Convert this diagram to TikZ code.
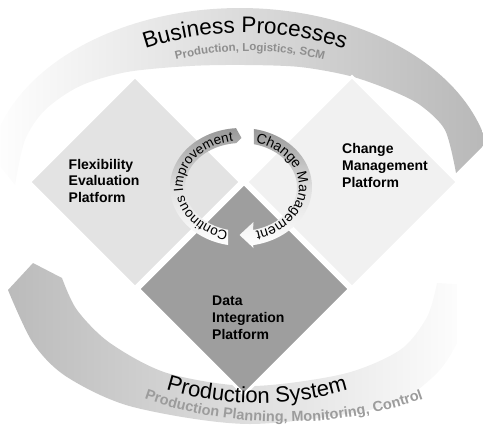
\documentclass[tikz,border=0pt]{standalone}
\usepackage{fontspec}
\setmainfont{Liberation Sans}
\usetikzlibrary{shapes.geometric,decorations.text}
\definecolor{leftgray}{HTML}{E3E3E3}
\definecolor{rightgray}{HTML}{F1F1F1}
\definecolor{datagray}{HTML}{9E9E9E}
\definecolor{topbandend}{HTML}{B8B8B8}
\definecolor{botbandstart}{HTML}{BBBBBB}
\definecolor{arrowgray}{HTML}{989898}
\definecolor{arrowmid}{HTML}{E0E0E0}
\definecolor{subgray}{HTML}{8E8E8E}
\definecolor{subgraytwo}{HTML}{9C9C9C}
\begin{document}
\begin{tikzpicture}[x=1pt,y=-1pt,
  plat/.style={diamond, aspect=1, minimum width=212pt, minimum height=212pt, inner sep=0pt, draw=white, line width=3pt},
  lbl/.style={font=\fontsize{14}{16.9}\selectfont\bfseries, align=left, inner sep=0pt, anchor=north west},
  circarrow/.style={top color=arrowgray, bottom color=white, middle color=arrowmid},
]
\useasboundingbox (0,0) rectangle (483,424);
\clip (0,0) rectangle (483,424);

% top band (Business Processes)
\path[left color=white, right color=topbandend]
  plot[domain=188:348, samples=90] ({240+252*cos(\x)},{178+170*sin(\x)})
  -- plot[smooth] coordinates {(456,173) (445,130) (420,105) (390,90) (350,76) (300,67) (245,65) (190,66) (127,72) (80,86) (45,110) (25,140) (15,185)}
  -- cycle;

% bottom band (Production System)
\begin{scope}
\clip (0,0) rectangle (457,424);
\path[left color=botbandstart, right color=white]
  plot[smooth] coordinates {(8,290) (33,343) (67,377) (133,407) (250,424) (383,407) (433,377) (457,343) (470,300) (475,285)}
  -- plot[smooth] coordinates {(437,283) (427,317) (400,350) (343,374) (250,386) (167,373) (110,343) (77,310) (62,278)}
  -- (33,263) -- cycle;
\end{scope}

% platforms
\node[plat, fill=leftgray] (flex) at (135,182) {};
\node[plat, fill=rightgray] (change) at (352,182) {};
\node[plat, fill=datagray] (data) at (244,289) {};

% circular arrows
\path[circarrow]
  plot[domain=100.5:266, samples=60] ({241+71*cos(\x)},{187+59*sin(\x)})
  -- (241.5,138)
  -- plot[domain=265:103.4, samples=60] ({241+56*cos(\x)},{187+44*sin(\x)})
  -- cycle;
\path[circarrow]
  plot[domain=280.5:440.3, samples=60] ({241+71*cos(\x)},{187+59*sin(\x)})
  -- (253.5,248) -- (239.5,235) -- (253.5,222)
  -- plot[domain=437.6:283.4, samples=60] ({241+56*cos(\x)},{187+44*sin(\x)})
  -- cycle;

% texts on the circular arrows
\path[decorate, decoration={text along path, text align=center,
  text={|\fontsize{13.5}{16}\selectfont|Continous Improvement}}]
  plot[domain=97:268, samples=80] ({241+58*cos(\x)},{187+46*sin(\x)});
\path[decorate, decoration={text along path, text align=center,
  text={|\fontsize{14}{16}\selectfont|Change Management}}]
  plot[domain=281:439, samples=80] ({241+58*cos(\x)},{187+46*sin(\x)});

% platform labels
\node[lbl] (flexlbl) at (68.5,158.7) {Flexibility\\Evaluation\\Platform};
\node[lbl] (changelbl) at (342,143) {Change\\Management\\Platform};
\node[lbl] (datalbl) at (212,296) {Data\\Integration\\Platform};

% band titles
\path[decorate, decoration={text along path, text align=center,
  text={|\fontsize{22.5}{27}\selectfont|Business Processes}}]
  plot[domain=200:340, samples=120] ({245+200*cos(\x)},{153+120*sin(\x)});
\path[decorate, decoration={text along path, text align=center, text color=subgray,
  text={|\fontsize{11.5}{14}\selectfont\bfseries|Production, Logistics, SCM}}]
  plot[domain=205:335, samples=120] ({250+180*cos(\x)},{151+100*sin(\x)});
\path[decorate, decoration={text along path, text align=center,
  text={|\fontsize{22}{27}\selectfont|Production System}}]
  plot[domain=155:25, samples=120] ({257+191*cos(\x)},{293+110*sin(\x)});
\path[decorate, decoration={text along path, text align=center, text color=subgraytwo,
  text={|\fontsize{14.5}{17}\selectfont\bfseries|Production Planning, Monitoring, Control}}]
  plot[domain=160:20, samples=140] ({284+265*cos(\x)},{267+155*sin(\x)});
\end{tikzpicture}
\end{document}
